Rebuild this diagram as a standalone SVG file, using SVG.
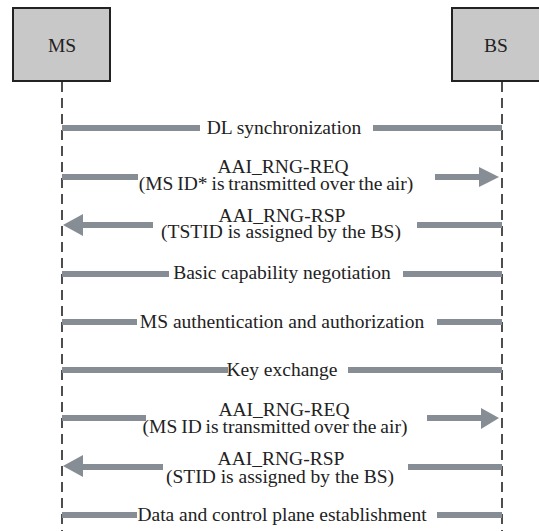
<svg xmlns="http://www.w3.org/2000/svg" width="539" height="531" viewBox="0 0 539 531">
<style>
.box{fill:#c8c8c8;stroke:#222;stroke-width:2}
.life{stroke:#222;stroke-width:1.6;stroke-dasharray:10 6;fill:none}
.bar{stroke:#868d94;stroke-width:6;fill:none}
.head{fill:#868d94}
</style>
<rect width="539" height="531" fill="#fff"/>
<g id="MS"><rect class="box" x="13" y="8" width="97" height="73"/><text x="62" y="52" font-family="Liberation Serif" font-size="19.5" fill="#222" text-anchor="middle">MS</text></g>
<g id="BS"><rect class="box" x="452" y="8" width="96" height="73"/><text x="496" y="52" font-family="Liberation Serif" font-size="19.5" fill="#222" text-anchor="middle">BS</text></g>
<g id="lifelines">
<line class="life" x1="62" y1="82" x2="62" y2="531"/>
<line class="life" x1="502" y1="82" x2="502" y2="531"/>
</g>
<g id="connectors">
<line class="bar" x1="62" y1="128" x2="200" y2="128"/><line class="bar" x1="373" y1="128" x2="502" y2="128"/>
<polygon class="head" points="479,167 499,177 479,187"/>
<line class="bar" x1="62" y1="177" x2="138" y2="177"/><line class="bar" x1="435" y1="177" x2="481" y2="177"/>
<line class="bar" x1="81" y1="225" x2="153" y2="225"/><line class="bar" x1="417" y1="225" x2="502" y2="225"/>
<polygon class="head" points="83,214 63,225 83,236"/>
<line class="bar" x1="62" y1="274" x2="169" y2="274"/><line class="bar" x1="403" y1="274" x2="502" y2="274"/>
<line class="bar" x1="62" y1="322" x2="137" y2="322"/><line class="bar" x1="437" y1="322" x2="502" y2="322"/>
<line class="bar" x1="62" y1="370" x2="228" y2="370"/><line class="bar" x1="348" y1="370" x2="502" y2="370"/>
<line class="bar" x1="62" y1="418" x2="146" y2="418"/><line class="bar" x1="427" y1="418" x2="483" y2="418"/>
<polygon class="head" points="481,408 499,418 481,429"/>
<line class="bar" x1="81" y1="467" x2="163" y2="467"/><line class="bar" x1="408" y1="467" x2="502" y2="467"/>
<polygon class="head" points="83,455 63,466 83,477"/>
<line class="bar" x1="62" y1="515" x2="137" y2="515"/><line class="bar" x1="437" y1="515" x2="502" y2="515"/>
</g>
<g id="labels" fill="#222" text-anchor="middle">
<text x="284" y="134" font-family="Liberation Serif" font-size="19.5">DL synchronization</text>
<text x="283" y="173" font-family="Liberation Serif" font-size="19.5">AAI_RNG-REQ</text>
<text x="276" y="190" font-family="Liberation Serif" font-size="19.5" word-spacing="-1">(MS ID* is transmitted over the air)</text>
<text x="282" y="222" font-family="Liberation Serif" font-size="19.5">AAI_RNG-RSP</text>
<text x="281" y="238" font-family="Liberation Serif" font-size="19.5">(TSTID is assigned by the BS)</text>
<text x="282" y="279" font-family="Liberation Serif" font-size="19.5">Basic capability negotiation</text>
<text x="282" y="328" font-family="Liberation Serif" font-size="19.5">MS authentication and authorization</text>
<text x="282" y="376" font-family="Liberation Serif" font-size="19.5">Key exchange</text>
<text x="284" y="416" font-family="Liberation Serif" font-size="19.5">AAI_RNG-REQ</text>
<text x="275" y="433" font-family="Liberation Serif" font-size="19.5" word-spacing="-1">(MS ID is transmitted over the air)</text>
<text x="281" y="465" font-family="Liberation Serif" font-size="19.5">AAI_RNG-RSP</text>
<text x="280" y="483" font-family="Liberation Serif" font-size="19.5">(STID is assigned by the BS)</text>
<text x="282" y="521" font-family="Liberation Serif" font-size="19.5">Data and control plane establishment</text>
</g>
</svg>
